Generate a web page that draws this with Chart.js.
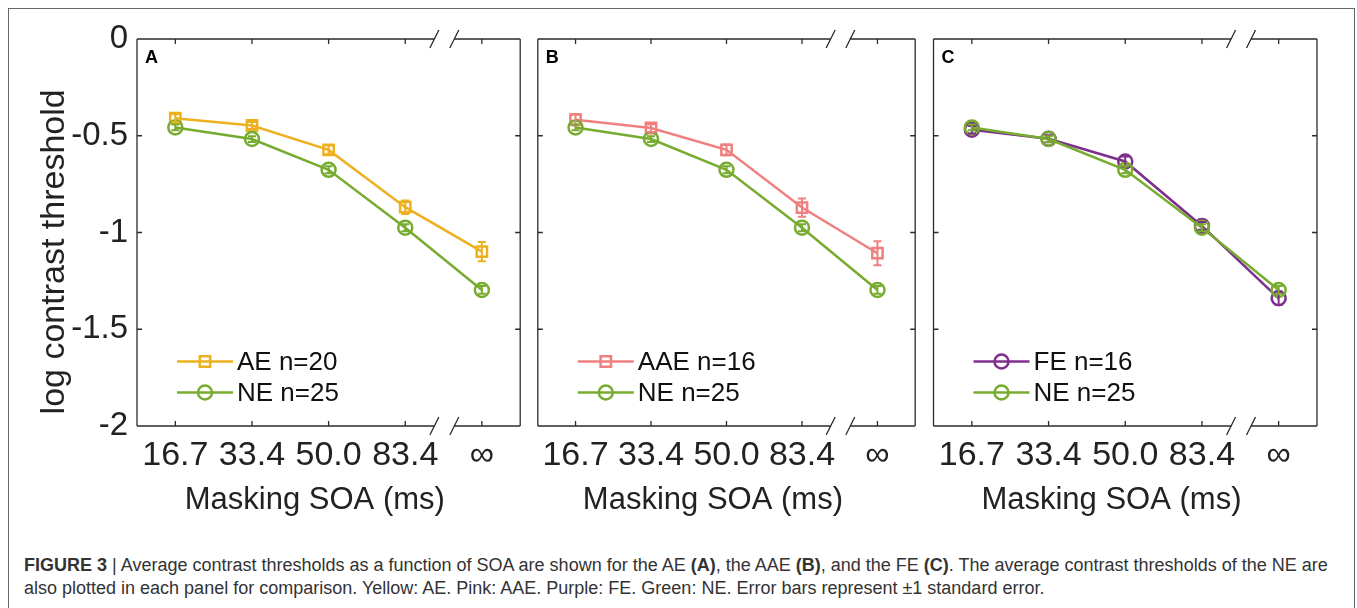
<!DOCTYPE html>
<html>
<head>
<meta charset="utf-8">
<script src="https://cdn.jsdelivr.net/npm/chart.js@4.4.0/dist/chart.umd.min.js"></script>
<style>
  html, body { margin: 0; padding: 0; background: #fff; }
  #fig { position: relative; width: 1357px; height: 608px; overflow: hidden; font-family: "Liberation Sans", Arial, sans-serif; }
  #frame { position: absolute; left: 8px; top: 8px; width: 1345px; height: 660px; border: 1.5px solid #666; }
  .panel { position: absolute; top: 0; height: 520px; }
  #caption { position: absolute; left: 24px; top: 554px; font-size: 18px; line-height: 23px; color: #333; white-space: nowrap; }
</style>
</head>
<body>
<div id="fig">
  <div id="frame"></div>
  <div class="panel" style="left:0;width:530px"><canvas id="panelA"></canvas></div>
  <div class="panel" style="left:528px;width:397px"><canvas id="panelB"></canvas></div>
  <div class="panel" style="left:924px;width:433px"><canvas id="panelC"></canvas></div>
  <div id="caption"><b>FIGURE 3</b> | Average contrast thresholds as a function of SOA are shown for the AE <b>(A)</b>, the AAE <b>(B)</b>, and the FE <b>(C)</b>. The average contrast thresholds of the NE are<br>also plotted in each panel for comparison. Yellow: AE. Pink: AAE. Purple: FE. Green: NE. Error bars represent ±1 standard error.</div>
</div>
<script>
// x categories (masking SOA) and y ticks
const xLabels = ['16.7', '33.4', '50.0', '83.4', '∞'];
const yTickValues = [-2, -1.5, -1, -0.5, 0];
const yTickLabels = ['-2', '-1.5', '-1', '-0.5', '0'];

// log contrast thresholds and standard errors
const neValues = [-0.457, -0.517, -0.676, -0.975, -1.297];
const neErrors = [0.015, 0.015, 0.018, 0.018, 0.02];
const aeValues = [-0.409, -0.447, -0.573, -0.869, -1.099];
const aeErrors = [0.02, 0.018, 0.022, 0.035, 0.05];
const aaeValues = [-0.417, -0.46, -0.573, -0.871, -1.107];
const aaeErrors = [0.03, 0.02, 0.028, 0.047, 0.062];
const feValues = [-0.469, -0.516, -0.633, -0.966, -1.34];
const feErrors = [0.02, 0.018, 0.026, 0.02, 0.035];

const FONT = '"Liberation Sans", Arial, sans-serif';
const INK = '#222';
const AXIS = '#2b2b2b';

// box with axis breaks, inward ticks, error bars, legend and titles
const panelDecor = {
    id: 'panelDecor',
    afterDatasetsDraw(chart) {
        const ys = chart.scales.y;
        const ctx = chart.ctx;
        chart.data.datasets.forEach((ds, di) => {
            const meta = chart.getDatasetMeta(di);
            ctx.save();
            ctx.strokeStyle = ds.borderColor;
            ctx.lineWidth = 2;
            meta.data.forEach((pt, i) => {
                const v = ds.data[i].y, e = ds.errors[i];
                const y1 = ys.getPixelForValue(v - e), y2 = ys.getPixelForValue(v + e);
                ctx.beginPath();
                ctx.moveTo(pt.x, y1); ctx.lineTo(pt.x, y2);
                ctx.moveTo(pt.x - 4, y1); ctx.lineTo(pt.x + 4, y1);
                ctx.moveTo(pt.x - 4, y2); ctx.lineTo(pt.x + 4, y2);
                ctx.stroke();
            });
            ctx.restore();
        });
    },
    afterDraw(chart, args, opts) {
        const { left, right, top, bottom } = chart.chartArea;
        const xs = chart.scales.x, ys = chart.scales.y;
        const ctx = chart.ctx;
        const b1 = xs.getPixelForValue(opts.breakFrom), b2 = xs.getPixelForValue(opts.breakTo);

        ctx.save();
        ctx.strokeStyle = AXIS;
        ctx.lineWidth = 1.3;
        ctx.beginPath();
        [top, bottom].forEach(by => {
            ctx.moveTo(left, by); ctx.lineTo(b1, by);
            ctx.moveTo(b2, by); ctx.lineTo(right, by);
        });
        ctx.moveTo(left, top); ctx.lineTo(left, bottom);
        ctx.moveTo(right, top); ctx.lineTo(right, bottom);
        [b1, b2].forEach(bx => [top, bottom].forEach(by => {
            ctx.moveTo(bx - 4.5, by + 9); ctx.lineTo(bx + 4.5, by - 9);
        }));
        xLabels.forEach((_, i) => {
            const px = xs.getPixelForValue(i);
            ctx.moveTo(px, bottom); ctx.lineTo(px, bottom - 5);
            ctx.moveTo(px, top); ctx.lineTo(px, top + 5);
        });
        yTickValues.forEach(v => {
            const py = ys.getPixelForValue(v);
            if (py > top + 1 && py < bottom - 1) {
                ctx.moveTo(left, py); ctx.lineTo(left + 5, py);
                ctx.moveTo(right, py); ctx.lineTo(right - 5, py);
            }
        });
        ctx.stroke();

        // panel letter
        ctx.fillStyle = '#000';
        ctx.font = 'bold 18px ' + FONT;
        ctx.textAlign = 'left';
        ctx.textBaseline = 'alphabetic';
        ctx.fillText(opts.letter, left + 8, top + 24);

        // legend
        chart.data.datasets.forEach((ds, i) => {
            const ly = top + 322.5 + i * 31;
            ctx.strokeStyle = ds.borderColor;
            ctx.lineWidth = 2.5;
            ctx.beginPath();
            ctx.moveTo(left + 40, ly); ctx.lineTo(left + 96, ly);
            ctx.stroke();
            ctx.beginPath();
            if (ds.pointStyle === 'rect') ctx.rect(left + 68 - 5.2, ly - 5.2, 10.4, 10.4);
            else ctx.arc(left + 68, ly, 7, 0, Math.PI * 2);
            ctx.stroke();
            ctx.fillStyle = '#111';
            ctx.font = '26px ' + FONT;
            ctx.fillText(ds.label, left + 100, ly + 8.5);
        });

        // axis titles
        ctx.fillStyle = INK;
        ctx.font = '31px ' + FONT;
        ctx.textAlign = 'center';
        ctx.fillText('Masking SOA (ms)', xs.getPixelForValue(1.82), bottom + 83);
        if (opts.showY) {
            ctx.translate(left - 82, ys.getPixelForValue(-1.1));
            ctx.rotate(-Math.PI / 2);
            ctx.textBaseline = 'middle';
            ctx.font = '34px ' + FONT;
            ctx.fillText('log contrast threshold', 0, 0);
        }
        ctx.restore();
    }
};

function series(label, values, errors, color, marker, order) {
    return {
        label: label,
        data: values.map((v, i) => ({ x: i, y: v })),
        errors: errors,
        borderColor: color,
        borderWidth: 2.5,
        pointStyle: marker,
        pointRadius: marker === 'rect' ? 7.3 : 7,
        pointBorderWidth: 2.5,
        pointBorderColor: color,
        pointBackgroundColor: 'rgba(0,0,0,0)',
        tension: 0,
        order: order
    };
}

function makePanel(canvasId, letter, group, showY, padding) {
    new Chart(document.getElementById(canvasId), {
        type: 'line',
        data: {
            datasets: [
                series(group.label, group.values, group.errors, group.color, group.marker, 1),
                series('NE n=25', neValues, neErrors, '#77AC30', 'circle', 0)
            ]
        },
        options: {
            responsive: true,
            maintainAspectRatio: false,
            animation: false,
            layout: { padding: padding },
            plugins: {
                legend: { display: false },
                tooltip: { enabled: false },
                panelDecor: { letter: letter, showY: showY, breakFrom: 3.38, breakTo: 3.64 }
            },
            scales: {
                x: {
                    type: 'linear',
                    min: -0.5,
                    max: 4.5,
                    afterBuildTicks: s => { s.ticks = xLabels.map((_, i) => ({ value: i })); },
                    ticks: {
                        callback: v => xLabels[v],
                        font: { size: 34, family: FONT },
                        color: INK,
                        padding: 9,
                        maxRotation: 0,
                        autoSkip: false
                    },
                    grid: { display: false, drawTicks: false },
                    border: { display: false },
                    afterFit: s => { s.height = 94; }
                },
                y: {
                    display: showY,
                    min: -2,
                    max: 0,
                    afterBuildTicks: s => { s.ticks = yTickValues.map(v => ({ value: v })); },
                    ticks: {
                        callback: v => yTickLabels[yTickValues.indexOf(v)],
                        font: { size: 33, family: FONT },
                        color: INK,
                        padding: 9
                    },
                    grid: { display: false, drawTicks: false },
                    border: { display: false },
                    afterFit: s => { s.width = showY ? 137 : 0; }
                }
            }
        },
        plugins: [panelDecor]
    });
}

makePanel('panelA', 'A', { label: 'AE n=20', values: aeValues, errors: aeErrors, color: '#EDB120', marker: 'rect' }, true, { top: 39, right: 5, left: 0, bottom: 0 });
makePanel('panelB', 'B', { label: 'AAE n=16', values: aaeValues, errors: aaeErrors, color: '#F08080', marker: 'rect' }, false, { top: 39, right: 5, left: 5, bottom: 0 });
makePanel('panelC', 'C', { label: 'FE n=16', values: feValues, errors: feErrors, color: '#7E2F8E', marker: 'circle' }, false, { top: 39, right: 40, left: 5, bottom: 0 });
</script>
</body>
</html>
